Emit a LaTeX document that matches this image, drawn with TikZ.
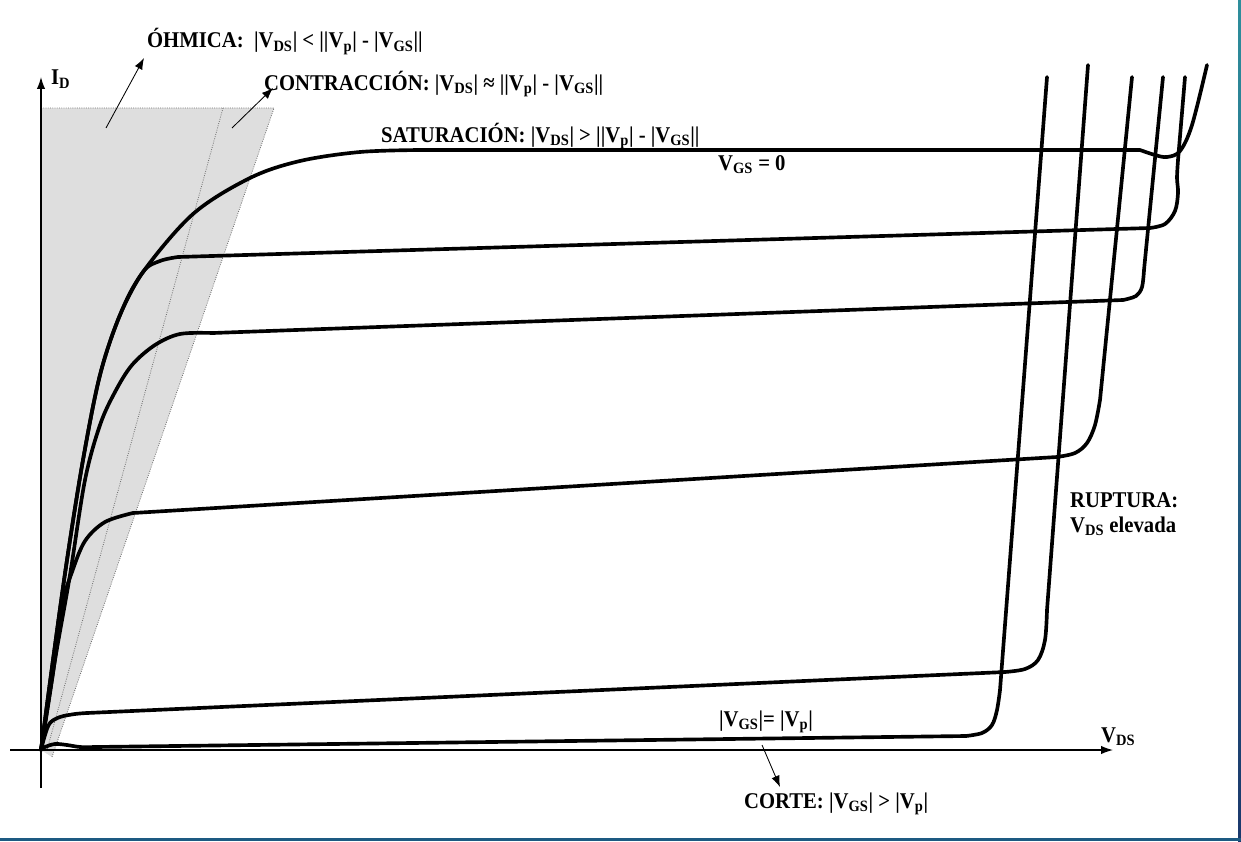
\documentclass[tikz,border=0pt]{standalone}
\usepackage{fontspec}
\setmainfont{Liberation Serif}[FakeStretch=0.92]
\usetikzlibrary{arrows.meta,positioning}
\newcommand{\lo}[1]{\textsubscript{#1}}
\definecolor{frametop}{HTML}{2E8E9C}
\definecolor{framebot}{HTML}{1B386C}
\definecolor{framebase}{HTML}{1D5A82}

\begin{document}
\begin{tikzpicture}[x=0.025cm,y=-0.025cm,
  lbl/.style={font=\fontsize{16}{19}\selectfont\bfseries,inner sep=2pt},
  curve/.style={line width=2.6pt,line join=round,line cap=round},
  zone/.style={densely dotted,black!55,line width=0.6pt},
  pointer/.style={-{Latex[length=8pt,width=6pt]},line width=0.6pt},
  axis/.style={-{Latex[length=8.5pt,width=6pt]},line width=0.9pt}]
  \useasboundingbox (0,0) rectangle (1241,841);
  \fill[white] (0,0) rectangle (1241,841);
  % frame
  \shade[top color=frametop,bottom color=framebot] (1238,0) rectangle (1241,841);
  \fill[framebase] (0,838) rectangle (1241,841);

  % ohmic and pinch-off zone
  \fill[black!13] (41,108) -- (274,108) -- (52,757) -- (41,750) -- cycle;
  \draw[zone] (41,108) -- (274,108) -- (52,757);
  \draw[zone] (223,108) -- (47,750);

  % axes
  \coordinate (ybot) at (41,788);
  \coordinate (ytop) at (41,77);
  \coordinate (xleft) at (10,750);
  \coordinate (xright) at (1113,750);
  \draw[axis] (ybot) -- (ytop);
  \draw[axis] (xleft) -- (xright);

  % curves
  \draw[curve] plot[smooth,tension=.55] coordinates {(41,750) (53,660) (67,560) (83,460) (100,375) (120,315) (143,272) (193,214) (250,178) (300,161) (360,152) (420,150)}
    -- plot[smooth,tension=.55] coordinates {(1140,150) (1155,155) (1167,157) (1180,151) (1192,125) (1207,65)};
  \draw[curve] plot[smooth,tension=.55] coordinates {(41,750) (53,660) (67,560) (83,460) (100,375) (120,315) (143,272) (160,261) (178,257)}
    -- plot[smooth,tension=.55] coordinates {(1150,228) (1165,224) (1175,211) (1178,193) (1177,178) (1178,160)} -- (1185,77);
  \draw[curve] plot[smooth,tension=.55] coordinates {(41,750) (55,660) (70,575) (85,480) (100,425) (115,392) (132,365) (155,345) (180,334) (213,333)}
    -- plot[smooth,tension=.55] coordinates {(1123,300) (1136,296) (1142,287) (1144,270)} -- (1163,77);
  \draw[curve] plot[smooth,tension=.55] coordinates {(41,750) (52,680) (63,603) (72,572) (85,541) (105,522) (133,513)}
    -- plot[smooth,tension=.55] coordinates {(1057,457) (1075,453) (1087,443) (1095,425) (1100,400)} -- (1132,77);
  \draw[curve] plot[smooth,tension=.55] coordinates {(41,750) (45,735) (50,723) (60,717) (75,714) (87,713)}
    -- plot[smooth,tension=.55] coordinates {(1005,672) (1025,669) (1038,660) (1045,640) (1047,610)} -- (1088,65);
  \draw[curve] plot[smooth,tension=.55] coordinates {(41,750) (45,747) (55,744) (67,745) (80,747) (95,747)}
    -- plot[smooth,tension=.55] coordinates {(966,736) (982,733) (992,725) (997,710) (1000,690)} -- (1047,77);

  % labels
  \path
  node[lbl,anchor=base west] (id) at (48,85) {I\lo{D}}
  node[lbl,anchor=base west] (vds) at (1098,742) {V\lo{DS}}
  node[lbl,anchor=base west] (ohm) at (144,48) {ÓHMICA:~ |V\lo{DS}| < ||V\lo{p}| - |V\lo{GS}||}
  node[lbl,anchor=base west] (contr) at (261,90) {CONTRACCIÓN: |V\lo{DS}| ≈ ||V\lo{p}| - |V\lo{GS}||}
  node[lbl,anchor=base west] (sat) at (378,142) {SATURACIÓN: |V\lo{DS}| > ||V\lo{p}| - |V\lo{GS}||}
  node[lbl,anchor=base west] (vgs0) at (715,170) {V\lo{GS} = 0}
  node[lbl,anchor=base west] (rupt) at (1067,507) {RUPTURA:}
  node[lbl,below=18pt of rupt.base west,anchor=base west] (elev) {V\lo{DS} elevada}
  node[lbl,anchor=base west] (vp) at (716,726) {|V\lo{GS}|= |V\lo{p}|}
  node[lbl,anchor=base west] (corte) at (741,808) {CORTE: |V\lo{GS}| > |V\lo{p}|}
  ;
  \coordinate (ohmtail) at (106,128);
  \coordinate (contrtail) at (232,128);
  \coordinate (cortetail) at (762,745);
  \path[pointer]
  (ohmtail) edge (ohm.south west)
  (contrtail) edge ([shift={(12,-2)}]contr.base west)
  (cortetail) edge ([shift={(39,-21)}]corte.base west)
  ;
\end{tikzpicture}
\end{document}
